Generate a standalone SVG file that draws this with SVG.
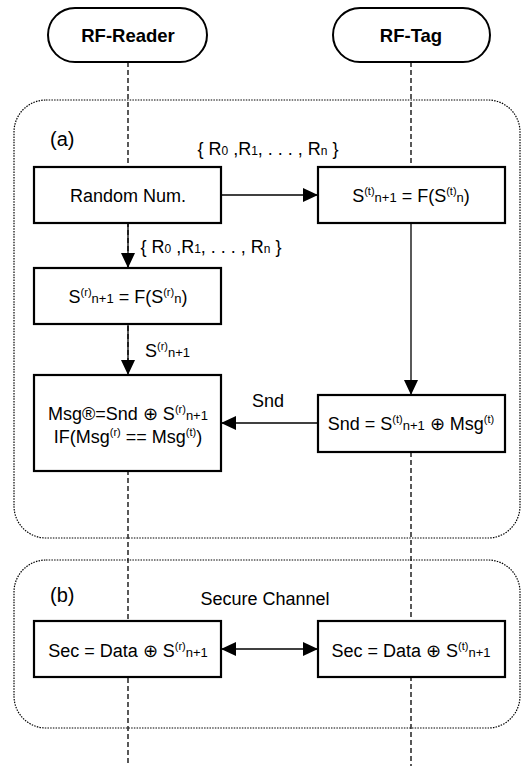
<svg xmlns="http://www.w3.org/2000/svg" width="522" height="766" viewBox="0 0 522 766">
  <style>
    text { font-family: "Liberation Sans", Arial, sans-serif; fill: #000; }
    .t { font-size: 18px; text-anchor: middle; }
    .s { font-size: 18px; }
    .hd { font-size: 18.5px; font-weight: bold; text-anchor: middle; }
    .lbl { font-size: 20px; }
    .box { fill: #fff; stroke: #000; stroke-width: 2.2; }
    .pill { fill: #fff; stroke: #000; stroke-width: 2; }
    .life { stroke: #000; stroke-width: 1.3; stroke-dasharray: 5 3; fill: none; }
    .frame { fill: none; stroke: #000; stroke-width: 1.2; stroke-dasharray: 1.5 1.2; }
    .conn { stroke: #000; stroke-width: 1.3; fill: none; }
  </style>
  <defs>
    <marker id="arr" markerUnits="userSpaceOnUse" markerWidth="16" markerHeight="14" refX="15" refY="7" orient="auto-start-reverse">
      <path d="M0,0 L15,7 L0,14 Z" fill="#000"/>
    </marker>
  </defs>

  <rect width="522" height="766" fill="#fff"/>

  <!-- lifelines (the tag line is solid where the state flows down to Snd) -->
  <g id="lifelines">
    <line class="life" x1="128" y1="62" x2="128" y2="766"/>
    <line class="life" x1="411" y1="62" x2="411" y2="223"/>
    <line class="life" x1="411" y1="452" x2="411" y2="766"/>
  </g>

  <!-- phase frames -->
  <g id="frame-a">
    <rect class="frame" x="14" y="100" width="506" height="438" rx="32"/>
    <text class="lbl" x="50" y="146">(a)</text>
  </g>
  <g id="frame-b">
    <rect class="frame" x="14" y="560" width="506" height="168" rx="32"/>
    <text class="lbl" x="50" y="602">(b)</text>
    <text class="t" x="265" y="605">Secure Channel</text>
  </g>

  <!-- participants -->
  <g id="reader">
    <rect class="pill" x="48" y="8" width="159" height="54" rx="27"/>
    <text class="hd" x="128" y="42">RF-Reader</text>
  </g>
  <g id="tag">
    <rect class="pill" x="333" y="8" width="157" height="54" rx="27"/>
    <text class="hd" x="411" y="42">RF-Tag</text>
  </g>

  <!-- connectors -->
  <g id="connectors">
    <line class="conn" x1="221" y1="195" x2="318" y2="195" marker-end="url(#arr)"/>
    <line class="conn" x1="128" y1="223" x2="128" y2="268" marker-end="url(#arr)"/>
    <line class="conn" x1="128" y1="324" x2="128" y2="375" marker-end="url(#arr)"/>
    <line class="conn" x1="411" y1="223" x2="411" y2="395" marker-end="url(#arr)"/>
    <line class="conn" x1="318" y1="423" x2="221" y2="423" marker-end="url(#arr)"/>
    <line class="conn" x1="221" y1="649" x2="318" y2="649" marker-start="url(#arr)" marker-end="url(#arr)"/>

    <text class="t" x="268" y="155">{ R<tspan font-size="12">0</tspan> ,R<tspan font-size="12">1</tspan>, . . . , R<tspan font-size="12">n</tspan> }</text>
    <text class="t" x="211" y="253">{ R<tspan font-size="12">0</tspan> ,R<tspan font-size="12">1</tspan>, . . . , R<tspan font-size="12">n</tspan> }</text>
    <text class="s" x="145" y="357">S<tspan font-size="11" dy="-7">(r)</tspan><tspan font-size="13" dy="7">n+1</tspan></text>
    <text class="t" x="268" y="407">Snd</text>
  </g>

  <!-- process boxes -->
  <g id="random-num">
    <rect class="box" x="34" y="167" width="187" height="56"/>
    <text class="t" x="128" y="202">Random Num.</text>
  </g>
  <g id="tag-state">
    <rect class="box" x="318" y="167" width="187" height="56"/>
    <text class="t" x="411" y="202">S<tspan font-size="11" dy="-7">(t)</tspan><tspan font-size="13" dy="7">n+1</tspan> = F(S<tspan font-size="11" dy="-7">(t)</tspan><tspan font-size="13" dy="7">n</tspan>)</text>
  </g>
  <g id="reader-state">
    <rect class="box" x="34" y="268" width="187" height="56"/>
    <text class="t" x="128" y="303">S<tspan font-size="11" dy="-7">(r)</tspan><tspan font-size="13" dy="7">n+1</tspan> = F(S<tspan font-size="11" dy="-7">(r)</tspan><tspan font-size="13" dy="7">n</tspan>)</text>
  </g>
  <g id="reader-check">
    <rect class="box" x="34" y="375" width="187" height="96"/>
    <text class="t" x="128" y="420">Msg®=Snd ⊕ S<tspan font-size="11" dy="-7">(r)</tspan><tspan font-size="13" dy="7">n+1</tspan></text>
    <text class="t" x="128" y="443">IF(Msg<tspan font-size="11" dy="-7">(r)</tspan><tspan dy="7"> == Msg</tspan><tspan font-size="11" dy="-7">(t)</tspan><tspan dy="7">)</tspan></text>
  </g>
  <g id="tag-send">
    <rect class="box" x="318" y="395" width="187" height="57"/>
    <text class="t" x="411" y="430">Snd = S<tspan font-size="11" dy="-7">(t)</tspan><tspan font-size="13" dy="7">n+1</tspan> ⊕ Msg<tspan font-size="11" dy="-7">(t)</tspan></text>
  </g>
  <g id="reader-sec">
    <rect class="box" x="34" y="621" width="187" height="56"/>
    <text class="t" x="128" y="657">Sec = Data ⊕ S<tspan font-size="11" dy="-7">(r)</tspan><tspan font-size="13" dy="7">n+1</tspan></text>
  </g>
  <g id="tag-sec">
    <rect class="box" x="318" y="621" width="187" height="56"/>
    <text class="t" x="411" y="657">Sec = Data ⊕ S<tspan font-size="11" dy="-7">(t)</tspan><tspan font-size="13" dy="7">n+1</tspan></text>
  </g>
</svg>
